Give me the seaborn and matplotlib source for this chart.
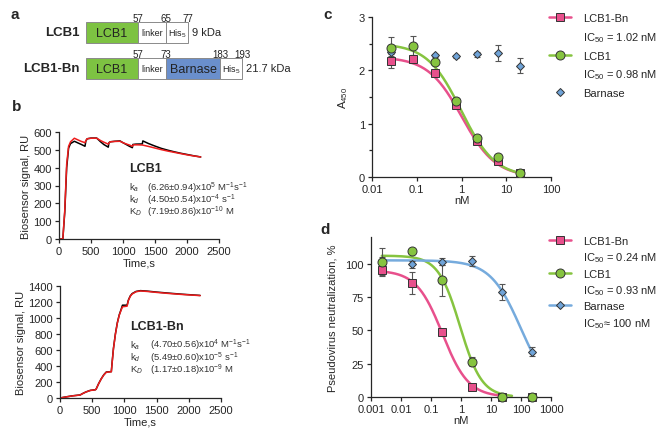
import numpy as np
import pandas as pd
import matplotlib
matplotlib.use('Agg')
import matplotlib.pyplot as plt
import seaborn as sns
from matplotlib.lines import Line2D

sns.set_theme(style='ticks')
plt.rcParams['font.family'] = ['Liberation Sans', 'DejaVu Sans']
plt.rcParams['mathtext.fontset'] = 'custom'
plt.rcParams['mathtext.rm'] = 'Liberation Sans'
plt.rcParams['mathtext.it'] = 'Liberation Sans:italic'
plt.rcParams['mathtext.bf'] = 'Liberation Sans:bold'
plt.rcParams['axes.linewidth'] = 0.9
plt.rcParams['xtick.major.width'] = 0.9
plt.rcParams['ytick.major.width'] = 0.9
plt.rcParams['ytick.minor.width'] = 0.9
plt.rcParams['xtick.major.size'] = 3
plt.rcParams['ytick.major.size'] = 3
plt.rcParams['ytick.minor.size'] = 2
plt.rcParams['xtick.labelsize'] = 8
plt.rcParams['ytick.labelsize'] = 8
plt.rcParams['axes.labelsize'] = 8
plt.rcParams['xtick.major.pad'] = 2
plt.rcParams['ytick.major.pad'] = 2

PINK = '#E8508C'
GREEN = '#86C440'
BLUE = '#76ABDD'
BLUE_MK = '#6FA3D8'
ERR = '#555555'
EDGE = '#333333'

# ---- a: domain schematic
a_rows = ['LCB1', 'LCB1-Bn']
a_segments = [['LCB1', 'linker', 'His$_5$'], ['LCB1', 'linker', 'Barnase', 'His$_5$']]
a_seg_len = [[52, 28, 22], [52, 28, 54, 22]]  # schematic widths, not to scale
a_bounds = [['57', '65', '77'], ['57', '73', '183', '193']]
a_mass = ['9 kDa', '21.7 kDa']
a_colors = {'LCB1': '#7DC242', 'linker': 'white', 'Barnase': '#6A8FCC', 'His$_5$': 'white'}

# ---- b: sensorgrams (time s, RU)
b1_t_exp = [0, 60, 90, 120, 150, 180, 240, 300, 350, 406, 420, 440, 500, 589, 650, 700, 770, 780, 800,
            870, 953, 1000, 1050, 1100, 1146, 1155, 1200, 1302, 1310, 1400, 1500, 1600, 1700, 1800,
            1900, 2000, 2100, 2214]
b1_ru_exp = [0, 0, 150, 400, 510, 535, 548, 538, 530, 520, 550, 562, 566, 566, 545, 530, 515, 540, 545,
             548, 550, 540, 530, 520, 512, 530, 532, 533, 550, 535, 521, 508, 498, 489, 481, 474, 467, 460]
b1_t_fit = [0, 60, 90, 120, 150, 180, 240, 300, 350, 406, 420, 440, 500, 589, 650, 700, 770, 785, 800,
            870, 953, 1000, 1050, 1100, 1146, 1160, 1230, 1302, 1400, 1500, 1600, 1700, 1800, 1900,
            2000, 2100, 2214]
b1_ru_fit = [0, 0, 160, 420, 520, 545, 565, 555, 547, 540, 552, 562, 565, 565, 552, 543, 532, 540, 545,
             547, 548, 540, 533, 527, 520, 528, 528, 527, 519, 510, 501, 493, 486, 479, 472, 466, 460]

b2_t_exp = [0, 100, 200, 312, 350, 400, 469, 547, 560, 600, 640, 680, 719, 797, 810, 830, 860, 890, 920,
            950, 970, 1042, 1060, 1090, 1120, 1180, 1250, 1354, 1500, 1700, 1900, 2177]
b2_ru_exp = [0, 15, 28, 38, 55, 75, 95, 103, 110, 180, 240, 290, 325, 330, 450, 620, 800, 940, 1040,
             1110, 1160, 1160, 1220, 1275, 1305, 1332, 1342, 1336, 1324, 1310, 1297, 1282]
b2_t_fit = [0, 100, 200, 312, 350, 400, 469, 547, 560, 600, 640, 680, 719, 797, 810, 830, 860, 890, 920,
            950, 970, 1042, 1060, 1090, 1120, 1180, 1250, 1354, 1500, 1700, 1900, 2177]
b2_ru_fit = [0, 14, 27, 37, 54, 74, 94, 102, 109, 178, 238, 288, 322, 328, 445, 615, 795, 935, 1035,
             1100, 1140, 1148, 1215, 1270, 1300, 1328, 1338, 1332, 1320, 1306, 1294, 1280]

b_names = ['LCB1', 'LCB1-Bn']
b_ka = ['(6.26±0.94)x10$^{5}$ M$^{-1}$s$^{-1}$', '(4.70±0.56)x10$^{4}$ M$^{-1}$s$^{-1}$']
b_kd = ['(4.50±0.54)x10$^{-4}$ s$^{-1}$', '(5.49±0.60)x10$^{-5}$ s$^{-1}$']
b_KD = ['(7.19±0.86)x10$^{-10}$ M', '(1.17±0.18)x10$^{-9}$ M']

# ---- c: ELISA competition
c_x = [0.027, 0.082, 0.25, 0.74, 2.2, 6.7, 20]
c_bn = [2.17, 2.21, 1.95, 1.35, 0.68, 0.30, 0.07]
c_bn_err = [0.13, 0.08, 0.05, 0.04, 0.03, 0.02, 0.02]
c_lcb1 = [2.42, 2.45, 2.15, 1.43, 0.74, 0.37, 0.08]
c_lcb1_err = [0.20, 0.19, 0.05, 0.06, 0.03, 0.03, 0.02]
c_bar = [2.34, 2.22, 2.28, 2.26, 2.30, 2.33, 2.09]
c_bar_err = [0.08, 0.06, 0.03, 0.02, 0.05, 0.15, 0.14]
c_fit_top = [2.25, 2.50]
c_fit_ic50 = [1.02, 0.98]
c_fit_hill = [1.15, 1.15]

# ---- d: pseudovirus neutralization
d_x = [0.0023, 0.023, 0.23, 2.3, 23, 230]
d_bn = [95, 85.5, 48.5, 7.8, 0, 0]
d_bn_err = [4, 8.5, 2, 0.5, 0, 0]
d_lcb1 = [101.5, 109.5, 87.5, 26.4, 0, 0]
d_lcb1_err = [10, 0, 11.5, 3.5, 0, 0]
d_bar = [102, 99.5, 101.5, 102, 79, 34]
d_bar_err = [3, 2.5, 2.5, 3.5, 6, 3.5]
d_fit_top = [95, 106, 102.5]
d_fit_ic50 = [0.24, 0.93, 100]
d_fit_hill = [1.0, 1.2, 0.85]
d_fit_xmax = [30, 50, 250]


def four_pl(x, top, ic50, hill):
    return top / (1 + (x / ic50) ** hill)


W, H = 669, 439
fig = plt.figure(figsize=(W / 100, H / 100), dpi=100)


def px_axes(l, t, r, b):
    return fig.add_axes([l / W, 1 - b / H, (r - l) / W, (b - t) / H])


# ================= a
ax_a = px_axes(0, 0, 340, 92)
ax_a.set_xlim(0, 340)
ax_a.set_ylim(92, 0)
ax_a.axis('off')
row_y = [33.5, 69.5]
for i, name in enumerate(a_rows):
    left = 86
    ax_a.text(left - 6, row_y[i], name, ha='right', va='center', fontsize=9.5, fontweight='bold')
    for seg, w, bnd in zip(a_segments[i], a_seg_len[i], a_bounds[i]):
        ax_a.barh(row_y[i], w, left=left, height=21, color=a_colors[seg], edgecolor='#8a8a8a', linewidth=0.7)
        fs = 9 if seg in ('LCB1', 'Barnase') else 6.5
        ax_a.text(left + w / 2, row_y[i] + 0.5, seg, ha='center', va='center', fontsize=fs, color='#222222')
        left += w
        ax_a.text(left, row_y[i] - 15, bnd, ha='center', va='center', fontsize=7, color='#222222')
    ax_a.text(left + 4, row_y[i], a_mass[i], ha='left', va='center', fontsize=8)

# ================= b
b_axes = [px_axes(59, 133, 219, 240), px_axes(60, 287, 221, 399)]
b_exp = [(b1_t_exp, b1_ru_exp), (b2_t_exp, b2_ru_exp)]
b_fit = [(b1_t_fit, b1_ru_fit), (b2_t_fit, b2_ru_fit)]
b_ylim = [(0, 600, 100), (0, 1400, 200)]
b_text_pos = [(1100, 400, 292, 224, 156, 1375), (1090, 900, 665, 512, 360, 1400)]
for i, ax in enumerate(b_axes):
    sns.lineplot(x=b_exp[i][0], y=b_exp[i][1], color='black', lw=1.1, ax=ax, sort=False)
    sns.lineplot(x=b_fit[i][0], y=b_fit[i][1], color='#EE1C1C', lw=1.1, ax=ax, sort=False)
    ax.set_xlim(0, 2500)
    lo, hi, st = b_ylim[i]
    ax.set_ylim(lo, hi)
    ax.set_yticks(np.arange(lo, hi + 1, st))
    ax.set_xticks(np.arange(0, 2501, 500))
    ax.set_xlabel('Time,s', labelpad=1)
    ax.set_ylabel('Biosensor signal, RU', labelpad=2)
    sns.despine(ax=ax)
    tx, ty, y1, y2, y3, vx = b_text_pos[i]
    ax.text(tx, ty, b_names[i], fontsize=9, fontweight='bold', va='center')
    for lab, val, yy in zip(['k$_{a}$', 'k$_{d}$', 'K$_{D}$'], [b_ka[i], b_kd[i], b_KD[i]], [y1, y2, y3]):
        ax.text(tx, yy, lab, fontsize=6.8, va='center', color='#333333')
        ax.text(vx, yy, val, fontsize=6.8, va='center', color='#333333')

# ================= c
ax_c = px_axes(372, 18, 551, 178)
xs = np.logspace(np.log10(c_x[0]), np.log10(c_x[-1]), 200)
for top, ic, h, col in zip(c_fit_top, c_fit_ic50, c_fit_hill, [PINK, GREEN]):
    sns.lineplot(x=xs, y=four_pl(xs, top, ic, h), color=col, lw=1.8, ax=ax_c)
series_c = [(c_bar, c_bar_err, 'D', BLUE_MK, 4.5), (c_bn, c_bn_err, 's', PINK, 6), (c_lcb1, c_lcb1_err, 'o', GREEN, 6.5)]
for vals, err, mk, col, ms in series_c:
    ax_c.errorbar(c_x, vals, yerr=err, fmt='none', ecolor=ERR, elinewidth=0.8, capsize=2.5, capthick=0.8, zorder=3)
    ax_c.plot(c_x, vals, linestyle='none', marker=mk, mfc=col, mec=EDGE, mew=0.7, ms=ms, zorder=4)
ax_c.set_xscale('log')
ax_c.set_xlim(0.01, 100)
ax_c.set_ylim(0, 3)
ax_c.set_xticks([0.01, 0.1, 1, 10, 100])
ax_c.set_xticklabels(['0.01', '0.1', '1', '10', '100'])
ax_c.xaxis.set_minor_locator(matplotlib.ticker.NullLocator())
ax_c.set_yticks([0, 1, 2, 3])
ax_c.set_yticks([0.5, 1.5, 2.5], minor=True)
ax_c.set_xlabel('nM', labelpad=1)
ax_c.set_ylabel('A$_{450}$', labelpad=6)
sns.despine(ax=ax_c)

blank = Line2D([], [], color='none')
h_bn = Line2D([], [], color=PINK, lw=1.8, marker='s', mfc=PINK, mec=EDGE, mew=0.7, ms=6)
h_l1 = Line2D([], [], color=GREEN, lw=1.8, marker='o', mfc=GREEN, mec=EDGE, mew=0.7, ms=6.5)
h_bar_c = Line2D([], [], linestyle='none', marker='D', mfc=BLUE_MK, mec=EDGE, mew=0.7, ms=4.5)
fig.legend([h_bn, blank, h_l1, blank, h_bar_c],
           ['LCB1-Bn', 'IC$_{50}$ = 1.02 nM', 'LCB1', 'IC$_{50}$ = 0.98 nM', 'Barnase'],
           loc='upper left', bbox_to_anchor=(549 / W, 1 - 14 / H), frameon=False, fontsize=8,
           handlelength=2.0, handletextpad=1.1, labelspacing=0.62, borderpad=0, borderaxespad=0)

# ================= d
ax_d = px_axes(371, 238, 551, 398)
for top, ic, h, xm, col in zip(d_fit_top, d_fit_ic50, d_fit_hill, d_fit_xmax, [PINK, GREEN, BLUE]):
    xs = np.logspace(np.log10(d_x[0]), np.log10(xm), 200)
    sns.lineplot(x=xs, y=four_pl(xs, top, ic, h), color=col, lw=1.8, ax=ax_d)
series_d = [(d_bar, d_bar_err, 'D', BLUE_MK, 4.5), (d_bn, d_bn_err, 's', PINK, 6), (d_lcb1, d_lcb1_err, 'o', GREEN, 6.5)]
for vals, err, mk, col, ms in series_d:
    ax_d.errorbar(d_x, vals, yerr=err, fmt='none', ecolor=ERR, elinewidth=0.8, capsize=2.5, capthick=0.8, zorder=3)
    ax_d.plot(d_x, vals, linestyle='none', marker=mk, mfc=col, mec=EDGE, mew=0.7, ms=ms, zorder=4, clip_on=False)
ax_d.set_xscale('log')
ax_d.set_xlim(0.001, 1000)
ax_d.set_ylim(0, 120)
ax_d.set_xticks([0.001, 0.01, 0.1, 1, 10, 100, 1000])
ax_d.set_xticklabels(['0.001', '0.01', '0.1', '1', '10', '100', '1000'])
ax_d.xaxis.set_minor_locator(matplotlib.ticker.NullLocator())
ax_d.set_yticks([0, 25, 50, 75, 100])
ax_d.set_xlabel('nM', labelpad=1)
ax_d.set_ylabel('Pseudovirus neutralization, %', labelpad=6)
sns.despine(ax=ax_d)

h_bar_d = Line2D([], [], color=BLUE, lw=1.8, marker='D', mfc=BLUE_MK, mec=EDGE, mew=0.7, ms=4.5)
fig.legend([h_bn, blank, h_l1, blank, h_bar_d, blank],
           ['LCB1-Bn', 'IC$_{50}$ = 0.24 nM', 'LCB1', 'IC$_{50}$ = 0.93 nM', 'Barnase', 'IC$_{50}$≈ 100 nM'],
           loc='upper left', bbox_to_anchor=(549 / W, 1 - 237 / H), frameon=False, fontsize=8,
           handlelength=2.0, handletextpad=1.1, labelspacing=0.4, borderpad=0, borderaxespad=0)

# panel letters
for lab, x, y in [('a', 15, 15), ('b', 17, 107), ('c', 328, 15), ('d', 325, 230)]:
    fig.text(x / W, 1 - y / H, lab, fontsize=11, fontweight='bold', va='center', ha='center')

fig.savefig('out.png', dpi=100)
